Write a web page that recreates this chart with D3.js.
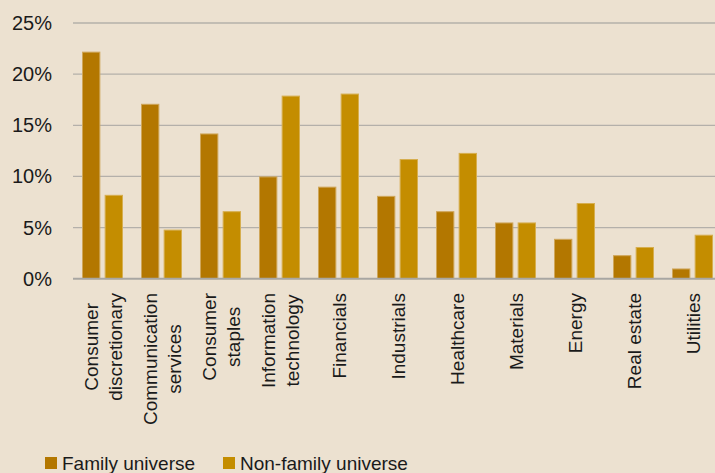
<!DOCTYPE html>
<html><head><meta charset="utf-8">
<script src="https://cdn.jsdelivr.net/npm/d3@7"></script>
<style>
html,body{margin:0;padding:0;background:#ece1d0;}
svg{display:block;}
text{font-family:"Liberation Sans",Arial,sans-serif;fill:#1a1a1a;}
</style></head>
<body>
<script>
const categories = [
  ["Consumer","discretionary"],
  ["Communication","services"],
  ["Consumer","staples"],
  ["Information","technology"],
  ["Financials"],
  ["Industrials"],
  ["Healthcare"],
  ["Materials"],
  ["Energy"],
  ["Real estate"],
  ["Utilities"]
];
const familyValues    = [22.2, 17.1, 14.2, 10.0, 9.0, 8.1, 6.6, 5.5, 3.9, 2.3, 1.0];
const nonFamilyValues = [8.2, 4.8, 6.6, 17.9, 18.1, 11.7, 12.3, 5.5, 7.4, 3.1, 4.3];
const seriesNames = ["Family universe", "Non-family universe"];
const yTicks = [0, 5, 10, 15, 20, 25];

const W = 715, H = 473;
const colors = ["#b37700", "#c48d00"];
const strokes = ["#cfa65a", "#d6ae4f"];

const svg = d3.select("body").append("svg").attr("width", W).attr("height", H)
  .style("background", "#ece1d0");

const plotLeft = 73, plotRight = 722, plotTop = 23, plotBottom = 278.7;
const ids = categories.map((c, i) => i);
const x0 = d3.scaleBand().domain(ids).range([plotLeft, plotRight]).paddingInner(0.305).paddingOuter(0.1525);
const x1 = d3.scaleBand().domain([0, 1]).range([0, x0.bandwidth()]).paddingInner(0.19);
const y = d3.scaleLinear().domain([0, 25]).range([plotBottom, plotTop]);

// gridlines
svg.append("g").selectAll("line").data(yTicks.filter(t => t > 0)).join("line")
  .attr("x1", plotLeft).attr("x2", W)
  .attr("y1", d => y(d)).attr("y2", d => y(d))
  .attr("stroke", "#b4b0aa").attr("stroke-width", 1.3);

// y tick labels
svg.append("g").selectAll("text").data(yTicks).join("text")
  .attr("x", 52).attr("y", d => y(d) + 7)
  .attr("text-anchor", "end").style("font-size", "20px")
  .text(d => d + "%");

// bars
const data = ids.map(i => [familyValues[i], nonFamilyValues[i]]);
const g = svg.append("g").selectAll("g").data(data).join("g")
  .attr("transform", (d, i) => `translate(${x0(i)},0)`);
g.selectAll("rect").data(d => d.map((v, s) => ({v, s}))).join("rect")
  .attr("x", d => x1(d.s) + 0.5)
  .attr("width", x1.bandwidth() - 1)
  .attr("y", d => y(d.v) + 0.5)
  .attr("height", d => plotBottom - y(d.v) - 0.5)
  .attr("fill", d => colors[d.s])
  .attr("stroke", d => strokes[d.s]).attr("stroke-width", 1);

// baseline
svg.append("line").attr("x1", plotLeft).attr("x2", W)
  .attr("y1", plotBottom).attr("y2", plotBottom)
  .attr("stroke", "#a8a6a2").attr("stroke-width", 2);

// x labels
const labTop = 293, lineGap = 24;
categories.forEach((lines, i) => {
  const cx = x0(i) + x0.bandwidth() / 2;
  const grp = svg.append("g");
  const texts = lines.map((ln, k) => grp.append("text")
    .style("font-size", "19px")
    .attr("text-anchor", "middle")
    .attr("dominant-baseline", "central")
    .text(ln));
  const maxLen = d3.max(texts, t => t.node().getComputedTextLength());
  const n = lines.length;
  texts.forEach((t, k) => {
    const lx = cx + (k - (n - 1) / 2) * lineGap + 1;
    t.attr("transform", `translate(${lx},${labTop + maxLen / 2}) rotate(-90)`);
  });
});

// legend
const legX = [45, 223], legY = 457;
seriesNames.forEach((name, s) => {
  svg.append("rect").attr("x", legX[s]).attr("y", legY).attr("width", 12).attr("height", 12)
    .attr("fill", colors[s]);
  svg.append("text").attr("x", legX[s] + 17).attr("y", legY + 12.5)
    .style("font-size", "19px").text(name);
});
</script>
</body></html>
